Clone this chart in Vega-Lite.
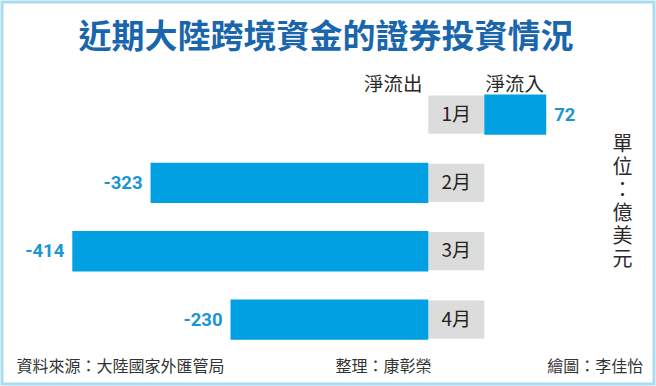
{
  "$schema": "https://vega.github.io/schema/vega-lite/v6.json",
  "width": 652,
  "height": 382,
  "padding": 2,
  "autosize": {"type": "none"},
  "background": "white",
  "title": {"text": "近期大陸跨境資金的證券投資情況", "orient": "top", "anchor": "middle", "frame": "group", "baseline": "middle", "offset": -69, "dx": -2, "fontSize": 33, "fontWeight": "bold", "color": "#1a66ad", "font": "Noto Sans CJK TC"},
  "config": {
    "view": {"stroke": "#a9dcf1", "strokeWidth": 3, "fill": "white"},
    "font": "Noto Sans CJK TC",
    "axis": {"domain": false, "ticks": false, "labels": false, "grid": false, "titleAngle": 0, "titleBaseline": "middle", "titleFontWeight": "normal", "titleColor": "#2a2a2a", "titleFont": "Noto Sans CJK TC", "titlePadding": 0}
  },
  "data": {"values": [
    {"m": "1月", "v": 72},
    {"m": "2月", "v": -323},
    {"m": "3月", "v": -414},
    {"m": "4月", "v": -230}
  ]},
  "resolve": {"axis": {"y": "independent"}},
  "layer": [
    {
      "mark": {"type": "tick", "color": "#dcdcdc", "thickness": 56, "size": 38.3, "opacity": 1},
      "encoding": {
        "x": {"datum": 0, "type": "quantitative", "axis": null},
        "y": {"field": "m", "type": "nominal", "sort": null,
              "scale": {"domain": ["1月", "2月", "3月", "4月"], "paddingInner": 0.41, "paddingOuter": 1.1465, "align": 0.676, "round": false},
              "axis": {"orient": "left", "title": "淨流出", "titleX": 420, "titleY": 82, "titleAlign": "right", "titleFontSize": 19.5}}
      }
    },
    {
      "transform": [{"filter": "datum.v < 0"}],
      "mark": {"type": "bar", "color": "#00a0e2", "xOffset": -28, "x2Offset": -28},
      "encoding": {
        "x": {"field": "v", "type": "quantitative",
              "scale": {"domain": [-528.3, 229.9], "nice": false, "zero": false},
              "axis": null},
        "x2": {"datum": 0},
        "y": {"field": "m", "type": "nominal", "sort": null,
              "axis": {"orient": "left", "title": "淨流入", "titleX": 483, "titleY": 82, "titleAlign": "left", "titleFontSize": 19.5}}
      }
    },
    {
      "transform": [{"filter": "datum.v > 0"}],
      "mark": {"type": "bar", "color": "#00a0e2", "xOffset": 28, "x2Offset": 28},
      "encoding": {
        "x": {"field": "v", "type": "quantitative", "axis": null},
        "x2": {"datum": 0},
        "y": {"field": "m", "type": "nominal", "sort": null,
              "axis": {"orient": "left", "title": ["單", "位", "：", "億", "美", "元"], "titleX": 620, "titleY": 142, "titleAlign": "center", "titleFontSize": 20, "titleLineHeight": 23}}
      }
    },
    {
      "mark": {"type": "text", "fontSize": 19, "color": "#222222", "font": "Noto Sans CJK TC"},
      "encoding": {
        "x": {"datum": 0, "type": "quantitative", "axis": null},
        "y": {"field": "m", "type": "nominal", "sort": null,
              "axis": {"orient": "left", "title": "資料來源：大陸國家外匯管局", "titleX": 14, "titleY": 364.5, "titleAlign": "left", "titleFontSize": 16, "titleColor": "#333333"}},
        "text": {"field": "m", "type": "nominal"}
      }
    },
    {
      "transform": [{"filter": "datum.v < 0"}],
      "mark": {"type": "text", "align": "right", "dx": -36, "fontSize": 18.5, "fontWeight": "bold", "color": "#1c95d4", "font": "Roboto"},
      "encoding": {
        "x": {"field": "v", "type": "quantitative", "axis": null},
        "y": {"field": "m", "type": "nominal", "sort": null,
              "axis": {"orient": "left", "title": "整理：康彰榮", "titleX": 333, "titleY": 364.5, "titleAlign": "left", "titleFontSize": 16, "titleColor": "#333333"}},
        "text": {"field": "v", "type": "nominal"}
      }
    },
    {
      "transform": [{"filter": "datum.v > 0"}],
      "mark": {"type": "text", "align": "left", "dx": 36, "fontSize": 18.5, "fontWeight": "bold", "color": "#1c95d4", "font": "Roboto"},
      "encoding": {
        "x": {"field": "v", "type": "quantitative", "axis": null},
        "y": {"field": "m", "type": "nominal", "sort": null,
              "axis": {"orient": "left", "title": "繪圖：李佳怡", "titleX": 640.7, "titleY": 364.5, "titleAlign": "right", "titleFontSize": 16, "titleColor": "#333333"}},
        "text": {"field": "v", "type": "nominal"}
      }
    }
  ]
}
